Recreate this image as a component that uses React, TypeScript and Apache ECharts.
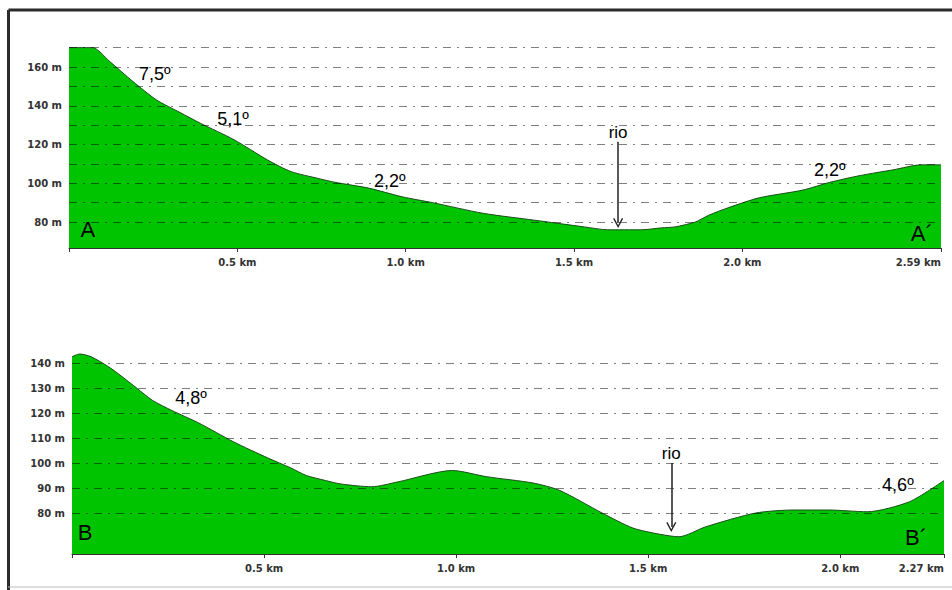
import React, { useEffect, useRef } from "react";
import * as echarts from "echarts";

// ---- Profile A–A' (distance km, elevation m)
const profileAKm = [0, 0.07, 0.12, 0.19, 0.26, 0.33, 0.39, 0.49, 0.59, 0.66, 0.74, 0.79, 0.89, 0.99, 1.08, 1.23, 1.38, 1.53, 1.6, 1.7, 1.76, 1.8, 1.86, 1.9, 1.96, 2.05, 2.18, 2.26, 2.35, 2.45, 2.53, 2.59];
const profileAM = [170, 170, 163, 152.5, 143, 136.5, 131, 122.5, 112, 106, 102.5, 100.5, 97.5, 93, 90, 84.5, 81, 77.5, 76, 76, 77, 77.5, 80, 83.5, 87.5, 92.5, 96.5, 100.5, 104, 107, 109.5, 109.5];

// ---- Profile B–B'
const profileBKm = [0, 0.02, 0.05, 0.1, 0.16, 0.21, 0.26, 0.33, 0.42, 0.51, 0.57, 0.61, 0.66, 0.7, 0.78, 0.85, 0.99, 1.08, 1.2, 1.27, 1.38, 1.46, 1.53, 1.58, 1.65, 1.78, 1.88, 1.97, 2.07, 2.18, 2.27];
const profileBM = [142.5, 143.6, 142.5, 138, 131, 125, 121, 116, 108.5, 102, 98, 95, 93, 91.6, 90.5, 92.5, 97, 94.5, 92, 89, 80, 74, 71.5, 70.5, 74.5, 80, 81.2, 81.2, 80.5, 84.5, 93];

// ---- Axes
const gridA = [170, 160, 150, 140, 130, 120, 110, 100, 90, 80];
const labelsA = [160, 140, 120, 100, 80];
const gridB = [140, 130, 120, 110, 100, 90, 80];
const labelsB = [140, 130, 120, 110, 100, 90, 80];
const xTicksA = [0, 0.5, 1.0, 1.5, 2.0, 2.59];
const xLabelsA = [0.5, 1.0, 1.5, 2.0, 2.59];
const xTicksB = [0, 0.5, 1.0, 1.5, 2.0, 2.27];
const xLabelsB = [0.5, 1.0, 1.5, 2.0, 2.27];
const yRangeA = [66.6, 172];
const yRangeB = [63.6, 145];

// ---- Annotations [km, m, text]
const notesA: [number, number, string][] = [
  [0.255, 156.4, "7,5º"],
  [0.487, 133.2, "5,1º"],
  [0.953, 101.2, "2,2º"],
  [2.26, 106.8, "2,2º"],
];
const lettersA: [number, number, string][] = [
  [0.056, 75.9, "A"],
  [2.533, 74.3, "A´"],
];
const notesB: [number, number, string][] = [
  [0.31, 126, "4,8º"],
  [2.15, 91.2, "4,6º"],
];
const lettersB: [number, number, string][] = [
  [0.034, 72.4, "B"],
  [2.197, 70.4, "B´"],
];
// river arrows: [km, top m, bottom m]
const riverA = [1.631, 121.4, 79.5];
const riverB = [1.56, 100, 74.4];

const GREEN = "#00c400";
const TXT = "#000000";
const AXIS_FONT = "DejaVu Sans";
const NOTE_FONT = "Liberation Sans";
const ARROW = "path://M5,0 L10,9 L8.8,9.8 L5,2.6 L1.2,9.8 L0,9 Z";

function pairs(xs: number[], ys: number[]) {
  return xs.map((x, i) => [x, ys[i]]);
}

function kmLabel(maxV: number) {
  return (v: number) => (Math.abs(v - maxV) < 1e-6 ? v.toFixed(2) : v.toFixed(1)) + " km";
}

function buildSeries(idx: number, km: number[], m: number[], grid: number[], labels: number[], notes: [number, number, string][], letters: [number, number, string][], river: number[]) {
  return [
    {
      type: "line",
      xAxisIndex: idx,
      yAxisIndex: idx,
      data: pairs(km, m),
      smooth: 0.25,
      symbol: "none",
      lineStyle: { color: "#1d4d1d", width: 1 },
      areaStyle: { color: GREEN, opacity: 1 },
      z: 2,
      markLine: {
        silent: true,
        symbol: "none",
        z: 5,
        lineStyle: { color: "rgba(0,0,0,0.5)", width: 1, type: [8, 6, 2, 6] },
        data: grid.map((g) => ({
          yAxis: g,
          label: labels.indexOf(g) >= 0
            ? { show: true, position: "start", distance: 7, formatter: g + " m", fontFamily: AXIS_FONT, fontWeight: "bold", fontSize: 10, color: "#333" }
            : { show: false },
        })),
      },
    },
    {
      type: "line",
      xAxisIndex: idx,
      yAxisIndex: idx,
      data: [],
      markLine: {
        silent: true,
        z: 6,
        symbol: ["none", ARROW],
        symbolSize: [10, 10],
        lineStyle: { color: "#222", width: 1.5, type: "solid" },
        label: { show: true, position: "start", distance: 1, formatter: "rio", fontFamily: NOTE_FONT, fontSize: 17, color: TXT },
        data: [[{ coord: [river[0], river[1]] }, { coord: [river[0], river[2]] }]],
      },
    },
    {
      type: "scatter",
      xAxisIndex: idx,
      yAxisIndex: idx,
      symbolSize: 1,
      itemStyle: { color: "rgba(0,0,0,0)" },
      z: 7,
      label: { show: true, position: "inside", formatter: (p: any) => p.value[2], fontFamily: NOTE_FONT, fontSize: 18, color: TXT, textBorderWidth: 0, opacity: 1 },
      data: notes.map((n) => ({ value: n })),
    },
    {
      type: "scatter",
      xAxisIndex: idx,
      yAxisIndex: idx,
      symbolSize: 1,
      itemStyle: { color: "rgba(0,0,0,0)" },
      z: 7,
      label: { show: true, position: "inside", formatter: (p: any) => p.value[2], fontFamily: NOTE_FONT, fontSize: 22, color: TXT, textBorderWidth: 0, opacity: 1 },
      data: letters.map((n) => ({ value: n })),
    },
  ];
}

function xAxisCfg(idx: number, maxV: number, ticks: number[], labels: number[]) {
  return {
    type: "value",
    gridIndex: idx,
    min: 0,
    max: maxV,
    interval: 0.5,
    axisLine: { show: true, lineStyle: { color: "#333", width: 1 } },
    axisTick: { show: true, length: 4, customValues: ticks, lineStyle: { color: "#333" } },
    axisLabel: {
      show: true,
      customValues: labels,
      margin: 9,
      formatter: kmLabel(maxV),
      alignMaxLabel: "right",
      fontFamily: AXIS_FONT,
      fontWeight: "bold",
      fontSize: 10,
      color: "#333",
    },
    splitLine: { show: false },
  };
}

function yAxisCfg(idx: number, range: number[]) {
  return {
    type: "value",
    gridIndex: idx,
    min: range[0],
    max: range[1],
    axisLine: { show: false },
    axisTick: { show: false },
    axisLabel: { show: false },
    splitLine: { show: false },
  };
}

export default function App() {
  const ref = useRef<HTMLDivElement>(null);
  useEffect(() => {
    if (!ref.current) return;
    const chart = echarts.init(ref.current, null, { renderer: "svg" });
    chart.setOption({
      animation: false,
      backgroundColor: "#ffffff",
      grid: [
        { left: 69, right: 11, top: 43.75, height: 204.25, containLabel: false, outerBoundsMode: "none" },
        { left: 72, right: 8, top: 350.5, height: 203.5, containLabel: false, outerBoundsMode: "none" },
      ],
      xAxis: [xAxisCfg(0, 2.59, xTicksA, xLabelsA), xAxisCfg(1, 2.27, xTicksB, xLabelsB)],
      yAxis: [yAxisCfg(0, yRangeA), yAxisCfg(1, yRangeB)],
      graphic: [
        { type: "line", shape: { x1: 8.5, y1: 10, x2: 952, y2: 10 }, style: { stroke: "#2b2b2b", lineWidth: 3 } },
        { type: "line", shape: { x1: 8.5, y1: 10, x2: 8.5, y2: 590 }, style: { stroke: "#2b2b2b", lineWidth: 3 } },
        { type: "line", shape: { x1: 8, y1: 587, x2: 952, y2: 587 }, style: { stroke: "#bbbbbb", lineWidth: 1 } },
      ],
      series: [
        ...buildSeries(0, profileAKm, profileAM, gridA, labelsA, notesA, lettersA, riverA),
        ...buildSeries(1, profileBKm, profileBM, gridB, labelsB, notesB, lettersB, riverB),
      ],
    });
    return () => chart.dispose();
  }, []);
  return <div ref={ref} style={{ position: "absolute", left: 0, top: 0, width: 952, height: 590 }} />;
}
